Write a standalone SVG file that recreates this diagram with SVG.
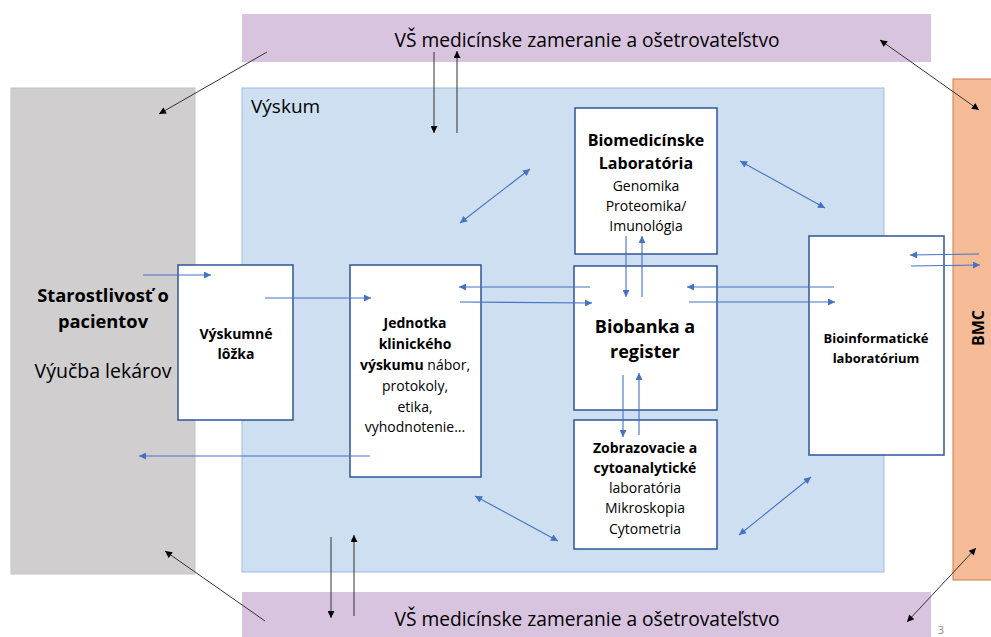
<svg xmlns="http://www.w3.org/2000/svg" width="991" height="637" viewBox="0 0 991 637">
<defs>
<marker id="ab" viewBox="0 0 10 10" refX="10" refY="5" markerWidth="9" markerHeight="7" markerUnits="userSpaceOnUse" orient="auto-start-reverse"><path d="M0,0 L10,5 L0,10 z" fill="#4472c4"/></marker>
<marker id="ak" viewBox="0 0 10 10" refX="10" refY="5" markerWidth="9" markerHeight="7" markerUnits="userSpaceOnUse" orient="auto-start-reverse"><path d="M0,0 L10,5 L0,10 z" fill="#000"/></marker>
<style>
text{font-family:"Open Sans","Liberation Sans",sans-serif;fill:#000;text-anchor:middle}
.b{font-weight:bold}
.s{font-size:14px}
.box{fill:#fff;stroke:#2f5597;stroke-width:1.5}
.bl{stroke:#4472c4;stroke-width:1.1;fill:none;marker-end:url(#ab)}
.bl2{stroke:#4472c4;stroke-width:1.1;fill:none;marker-end:url(#ab);marker-start:url(#ab)}
.k{stroke:#333;stroke-width:1;fill:none;marker-end:url(#ak)}
.k2{stroke:#333;stroke-width:1;fill:none;marker-end:url(#ak);marker-start:url(#ak)}
</style>
</defs>
<rect width="991" height="637" fill="#fff"/>
<g id="vs-top"><rect x="242" y="14" width="689" height="48" fill="#d9c4e0"/><text x="587" y="47" font-size="19.2">VŠ medicínske zameranie a ošetrovateľstvo</text></g>
<g id="vs-bottom"><rect x="242" y="592" width="689" height="50" fill="#d9c4e0"/><text x="587" y="626" font-size="19.2">VŠ medicínske zameranie a ošetrovateľstvo</text></g>
<g id="starostlivost"><rect x="11" y="88" width="184" height="486" fill="#d0cece" stroke="#c4c4c4"/><text x="103" y="302" font-size="18.3" class="b">Starostlivosť o</text><text x="103" y="328" font-size="18.3" class="b">pacientov</text><text x="103" y="378" font-size="19.5">Výučba lekárov</text></g>
<g id="bmc"><rect x="953" y="79" width="45" height="501" fill="#f4bb96" stroke="#c97b4c"/><text transform="translate(984,328) rotate(-90)" font-size="16" class="b">BMC</text></g>
<g id="vyskum"><rect x="242" y="88" width="642" height="484" fill="#cddff0" stroke="#9dbbe6"/><text x="251" y="113" font-size="19" style="text-anchor:start">Výskum</text></g>
<g id="biomed"><rect class="box" x="575" y="108" width="142" height="146"/><text x="646" y="146" font-size="16" class="b">Biomedicínske</text><text x="646" y="169" font-size="16" class="b">Laboratória</text><text x="646" y="191" class="s">Genomika</text><text x="646" y="211" class="s">Proteomika/</text><text x="646" y="231" class="s">Imunológia</text></g>
<g id="lozka"><rect class="box" x="178" y="265" width="115" height="155"/><text x="236" y="339" class="s b">Výskumné</text><text x="236" y="359" class="s b">lôžka</text></g>
<g id="jednotka"><rect class="box" x="350" y="265" width="131" height="212"/><text x="415" y="328" class="s b">Jednotka</text><text x="415" y="349" class="s b">klinického</text><text x="415" y="370" class="s"><tspan class="b">výskumu</tspan> nábor,</text><text x="415" y="391" class="s">protokoly,</text><text x="415" y="412" class="s">etika,</text><text x="415" y="432" class="s">vyhodnotenie...</text></g>
<g id="biobanka"><rect class="box" x="574" y="266" width="143" height="144"/><text x="645" y="333" font-size="18" class="b">Biobanka a</text><text x="645" y="358" font-size="18" class="b">register</text></g>
<g id="zobrazovacie"><rect class="box" x="574" y="420" width="143" height="129"/><text x="645" y="453" class="s b">Zobrazovacie a</text><text x="645" y="473" class="s b">cytoanalytické</text><text x="645" y="493" class="s">laboratória</text><text x="645" y="513" class="s">Mikroskopia</text><text x="645" y="534" class="s">Cytometria</text></g>
<g id="bioinf"><rect class="box" x="809" y="236" width="135" height="219"/><text x="876" y="343" font-size="13" class="b">Bioinformatické</text><text x="876" y="363" font-size="13" class="b">laboratórium</text></g>
<text x="941" y="634" font-size="11" style="fill:#888">3</text>
<g id="connectors">
<line class="k" x1="267" y1="52" x2="159" y2="114"/>
<line class="k" x1="434" y1="52" x2="434" y2="133"/>
<line class="k" x1="457" y1="133" x2="457" y2="51"/>
<line class="k2" x1="880" y1="40" x2="979" y2="110"/>
<line class="k" x1="265" y1="621" x2="165" y2="551"/>
<line class="k" x1="331" y1="537" x2="331" y2="618"/>
<line class="k" x1="354" y1="616" x2="354" y2="535"/>
<line class="k2" x1="907" y1="622" x2="976" y2="548"/>
<line class="bl" x1="143" y1="275" x2="211" y2="275"/>
<line class="bl" x1="265" y1="298" x2="371" y2="298"/>
<line class="bl" x1="590" y1="287" x2="459" y2="287"/>
<line class="bl" x1="460" y1="302" x2="592" y2="303"/>
<line class="bl" x1="626" y1="236" x2="626" y2="297"/>
<line class="bl" x1="642" y1="297" x2="642" y2="236"/>
<line class="bl" x1="834" y1="287" x2="687" y2="287"/>
<line class="bl" x1="689" y1="302" x2="835" y2="302"/>
<line class="bl" x1="979" y1="254" x2="910" y2="255"/>
<line class="bl" x1="911" y1="266" x2="980" y2="265"/>
<line class="bl" x1="623" y1="375" x2="623" y2="437"/>
<line class="bl" x1="639" y1="435" x2="639" y2="373"/>
<line class="bl" x1="370" y1="456" x2="139" y2="456"/>
<line class="bl2" x1="460" y1="223" x2="530" y2="169"/>
<line class="bl2" x1="740" y1="161" x2="825" y2="208"/>
<line class="bl2" x1="475" y1="496" x2="558" y2="541"/>
<line class="bl2" x1="739" y1="535" x2="811" y2="477"/>
</g>
</svg>
